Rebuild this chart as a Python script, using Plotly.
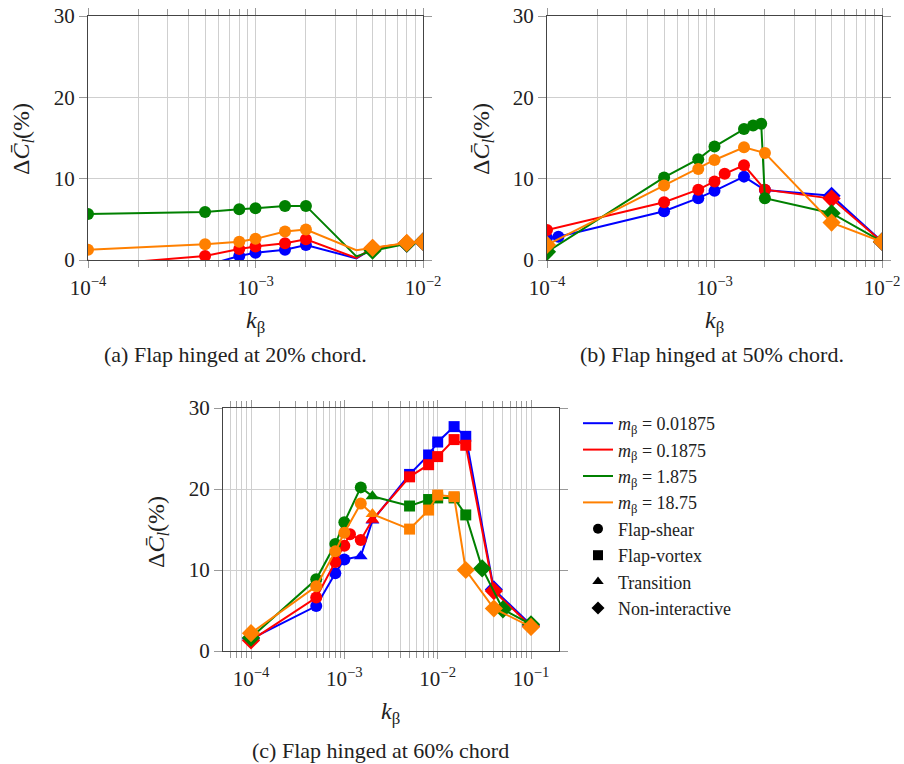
import plotly.graph_objects as go

# ---------------- data ----------------
# regime codes: S = Flap-shear, V = Flap-vortex, T = Transition, N = Non-interactive, "" = no marker
series_names = ["0.01875", "0.1875", "1.875", "18.75"]
series_colors = ["#0000ff", "#ff0000", "#008000", "#ff8000"]

# Panel (a): flap hinged at 20% chord
a_k = [1e-4, 5e-4, 8e-4, 1e-3, 1.5e-3, 2e-3, 4e-3, 5e-3, 8e-3, 1e-2]
a_reg = ["S", "S", "S", "S", "S", "S", "", "N", "N", "N"]
a_blue = [-1.5, -0.7, 0.5, 0.9, 1.25, 1.85, 0.2, 1.4, 2.0, 2.25]
a_red = [-0.7, 0.5, 1.35, 1.65, 2.05, 2.55, 0.25, 1.45, 2.05, 2.25]
a_green = [5.65, 5.9, 6.25, 6.35, 6.65, 6.65, 0.45, 1.15, 2.0, 2.25]
a_orange = [1.25, 1.95, 2.25, 2.6, 3.5, 3.75, 1.2, 1.5, 2.1, 2.25]

# Panel (b): flap hinged at 50% chord
b_k_blue = [1e-4, 1.17e-4, 5e-4, 8e-4, 1e-3, 1.5e-3, 2e-3, 5e-3, 1e-2]
b_reg_blue = ["S", "S", "S", "S", "S", "S", "S", "N", "N"]
b_blue = [2.7, 2.85, 6.0, 7.6, 8.5, 10.25, 8.6, 7.9, 2.25]
b_k_red = [1e-4, 5e-4, 8e-4, 1e-3, 1.15e-3, 1.5e-3, 2e-3, 5e-3, 1e-2]
b_reg_red = ["S", "S", "S", "S", "S", "S", "S", "N", "N"]
b_red = [3.7, 7.1, 8.65, 9.65, 10.6, 11.65, 8.65, 7.55, 2.25]
b_k_green = [1e-4, 5e-4, 8e-4, 1e-3, 1.5e-3, 1.7e-3, 1.9e-3, 2e-3, 5e-3, 1e-2]
b_reg_green = ["N", "S", "S", "S", "S", "S", "S", "S", "N", "N"]
b_green = [1.0, 10.15, 12.4, 13.95, 16.1, 16.55, 16.75, 7.6, 5.75, 2.25]
b_k_orange = [1e-4, 5e-4, 8e-4, 1e-3, 1.5e-3, 2e-3, 5e-3, 1e-2]
b_reg_orange = ["N", "S", "S", "S", "S", "S", "N", "N"]
b_orange = [1.85, 9.15, 11.2, 12.3, 13.85, 13.15, 4.6, 2.25]

# Panel (c): flap hinged at 60% chord
c_k_blue = [1e-4, 5e-4, 8e-4, 1e-3, 1.5e-3, 2e-3, 5e-3, 8e-3, 1e-2, 1.5e-2, 2e-2, 4e-2, 1e-1]
c_reg_blue = ["N", "S", "S", "S", "T", "T", "V", "V", "V", "V", "V", "N", "N"]
c_blue = [1.5, 5.55, 9.6, 11.3, 11.7, 16.1, 21.8, 24.2, 25.8, 27.7, 26.5, 7.6, 3.2]
c_k_red = [1e-4, 5e-4, 8e-4, 1e-3, 1.15e-3, 1.5e-3, 2e-3, 5e-3, 8e-3, 1e-2, 1.5e-2, 2e-2, 4e-2, 1e-1]
c_reg_red = ["N", "S", "S", "S", "S", "S", "T", "V", "V", "V", "V", "V", "N", "N"]
c_red = [1.3, 6.6, 11.0, 13.0, 14.4, 13.7, 16.2, 21.5, 23.0, 24.0, 26.1, 25.4, 7.4, 3.05]
c_k_green = [1e-4, 5e-4, 8e-4, 1e-3, 1.5e-3, 2e-3, 5e-3, 8e-3, 1e-2, 1.5e-2, 2e-2, 3e-2, 5e-2, 1e-1]
c_reg_green = ["N", "S", "S", "S", "S", "T", "V", "V", "V", "V", "V", "N", "N", "N"]
c_green = [1.65, 8.85, 13.2, 15.9, 20.2, 19.1, 17.9, 18.7, 18.9, 18.9, 16.8, 10.2, 5.15, 3.3]
c_k_orange = [1e-4, 5e-4, 8e-4, 1e-3, 1.5e-3, 2e-3, 5e-3, 8e-3, 1e-2, 1.5e-2, 2e-2, 4e-2, 1e-1]
c_reg_orange = ["N", "S", "S", "S", "S", "T", "V", "V", "V", "V", "N", "N", "N"]
c_orange = [2.2, 8.0, 12.3, 14.6, 18.2, 16.9, 15.05, 17.4, 19.25, 19.05, 10.0, 5.25, 2.97]

y_ticks = [0, 10, 20, 30]
regime_labels = ["Flap-shear", "Flap-vortex", "Transition", "Non-interactive"]
captions = ["(a) Flap hinged at 20% chord.", "(b) Flap hinged at 50% chord.", "(c) Flap hinged at 60% chord"]

# ---------------- styling ----------------
FONT = "Liberation Serif, DejaVu Serif, serif"
TXT = "#222222"
SYM = {"S": "circle", "V": "square", "T": "triangle-up", "N": "diamond", "": "circle"}
SIZE = {"S": 12, "V": 11, "T": 12, "N": 14, "": 0}
W, H = 904, 764

fig = go.Figure()

panels = [
    ("x", "y", [(a_k, a_blue, a_reg), (a_k, a_red, a_reg), (a_k, a_green, a_reg), (a_k, a_orange, a_reg)]),
    ("x2", "y2", [(b_k_blue, b_blue, b_reg_blue), (b_k_red, b_red, b_reg_red),
                  (b_k_green, b_green, b_reg_green), (b_k_orange, b_orange, b_reg_orange)]),
    ("x3", "y3", [(c_k_blue, c_blue, c_reg_blue), (c_k_red, c_red, c_reg_red),
                  (c_k_green, c_green, c_reg_green), (c_k_orange, c_orange, c_reg_orange)]),
]

for xa, ya, series in panels:
    for (k, v, reg), col in zip(series, series_colors):
        fig.add_trace(go.Scatter(
            x=k, y=v, xaxis=xa, yaxis=ya, mode="lines+markers",
            line=dict(color=col, width=2),
            marker=dict(color=col, symbol=[SYM[r] for r in reg], size=[SIZE[r] for r in reg],
                        opacity=1, line=dict(width=0)),
            showlegend=False, cliponaxis=True,
        ))

# legend entries
for name, col in zip(series_names, series_colors):
    fig.add_trace(go.Scatter(
        x=[None], y=[None], mode="lines", line=dict(color=col, width=2),
        name="<i>m</i><sub>β</sub> = " + name, xaxis="x3", yaxis="y3"))
for lab, code in zip(regime_labels, ["S", "V", "T", "N"]):
    fig.add_trace(go.Scatter(
        x=[None], y=[None], mode="markers",
        marker=dict(color="black", symbol=SYM[code], size=10, opacity=1),
        name=lab, xaxis="x3", yaxis="y3"))


def px_x(p):
    return p / W


def px_y(p):
    return 1 - p / H


minor_vals = [m * 10.0 ** e for e in range(-5, 0) for m in range(2, 10)]


def sup(e):
    return "10<sup>−%d</sup>" % e


common_x = dict(
    type="log", showline=True, linecolor="#444444", linewidth=1.2, mirror="ticks",
    ticks="outside", ticklen=7, tickcolor="#999999", tickwidth=1,
    showgrid=True, gridcolor="#cfcfcf", gridwidth=1, zeroline=False, automargin=False,
    tickfont=dict(family=FONT, size=21, color=TXT), ticklabelstandoff=2,
    minor=dict(tickvals=minor_vals, showgrid=True, gridcolor="#cfcfcf", gridwidth=1,
               ticks="outside", ticklen=6, tickcolor="#999999"),
)
common_y = dict(
    range=[0, 30], tickvals=y_ticks, showline=True, linecolor="#444444", linewidth=1.2,
    mirror="ticks", ticks="outside", ticklen=8, tickcolor="#999999", automargin=False,
    showgrid=True, gridcolor="#cfcfcf", gridwidth=1, zeroline=False,
    tickfont=dict(family=FONT, size=21, color=TXT),
)

fig.update_layout(
    width=W, height=H, margin=dict(l=0, r=0, t=0, b=0, pad=0, autoexpand=False),
    paper_bgcolor="white", plot_bgcolor="white",
    xaxis=dict(common_x, domain=[px_x(88), px_x(423)], range=[-4, -2],
               tickvals=[1e-4, 1e-3, 1e-2], ticktext=[sup(4), sup(3), sup(2)], anchor="y"),
    yaxis=dict(common_y, domain=[px_y(260), px_y(16)], anchor="x"),
    xaxis2=dict(common_x, domain=[px_x(547), px_x(882)], range=[-4, -2],
                tickvals=[1e-4, 1e-3, 1e-2], ticktext=[sup(4), sup(3), sup(2)], anchor="y2"),
    yaxis2=dict(common_y, domain=[px_y(260), px_y(16)], anchor="x2"),
    xaxis3=dict(common_x, domain=[px_x(223), px_x(559)], range=[-4.3, -0.7],
                tickvals=[1e-4, 1e-3, 1e-2, 1e-1], ticktext=[sup(4), sup(3), sup(2), sup(1)], anchor="y3"),
    yaxis3=dict(common_y, domain=[px_y(651), px_y(408)], anchor="x3"),
    legend=dict(x=px_x(578), y=px_y(405), xanchor="left", yanchor="top",
                font=dict(family=FONT, size=18, color=TXT), bgcolor="rgba(0,0,0,0)",
                tracegroupgap=0),
    font=dict(family=FONT, color=TXT),
)

ylab = "Δ<i>C̄</i><sub><i>l</i></sub>(%)"
xlab = "<i>k</i><sub>β</sub>"
ann = []
for xc, yc in [(23, 139), (483, 139), (158, 532)]:
    ann.append(dict(x=px_x(xc), y=px_y(yc), xref="paper", yref="paper", text=ylab, textangle=-90,
                    xanchor="center", yanchor="middle",
                    showarrow=False, font=dict(family=FONT, size=24, color=TXT)))
for xc, yc in [(255, 322), (714, 322), (390, 713)]:
    ann.append(dict(x=px_x(xc), y=px_y(yc), xref="paper", yref="paper", text=xlab,
                    xanchor="center", yanchor="middle",
                    showarrow=False, font=dict(family=FONT, size=24, color=TXT)))
for cap, (xc, yc) in zip(captions, [(235, 355), (712, 355), (380, 750)]):
    ann.append(dict(x=px_x(xc), y=px_y(yc), xref="paper", yref="paper", text=cap,
                    xanchor="center", yanchor="middle",
                    showarrow=False, font=dict(family=FONT, size=22, color=TXT)))
fig.update_layout(annotations=ann)

fig.write_html("out.html", post_script="document.body.style.margin='0';")
